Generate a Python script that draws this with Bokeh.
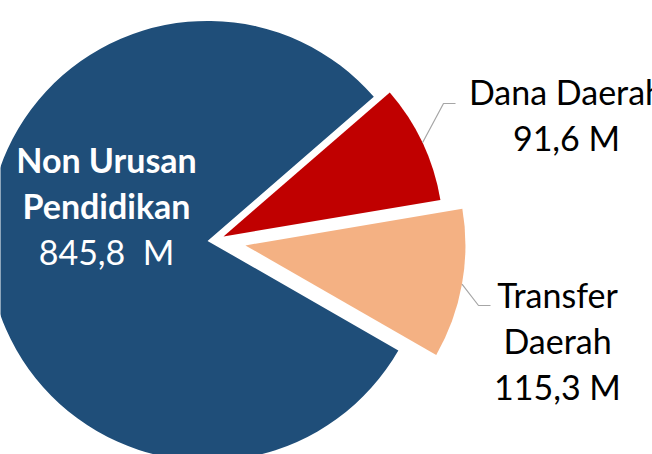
import numpy as np
from bokeh.plotting import figure
from bokeh.models import ColumnDataSource, Range1d
from bokeh.core.properties import value
from bokeh.embed import file_html
from bokeh.resources import INLINE

# ---- data (clockwise order starting at the upper edge of "Dana Daerah") ----
name_lines = [["Dana Daerah"], ["Transfer", "Daerah"], ["Non Urusan", "Pendidikan"]]
values = [91.6, 115.3, 845.8]
value_labels = ["91,6 M", "115,3 M", "845,8\u00a0 M"]
colors = ["#C00000", "#F4B183", "#1F4E79"]

# ---- layout ----
W, H = 652, 454
START_DEG = 40.9            # upper edge of the first slice
CX, CY = 215.4, H - 239.6   # pie centre
R = 220
explode = [8.4, 30.0, 8.4]

vals = np.array(values, dtype=float)
sweep = vals / vals.sum() * 360.0
upper = START_DEG - np.concatenate([[0], np.cumsum(sweep)[:-1]])
lower = upper - sweep
mid = np.radians((upper + lower) / 2)
xs = CX + np.array(explode) * np.cos(mid)
ys = CY + np.array(explode) * np.sin(mid)

p = figure(width=W, height=H, x_range=Range1d(0, W), y_range=Range1d(0, H),
           output_backend="svg", toolbar_location=None, min_border=0,
           x_axis_location=None, y_axis_location=None)
p.grid.visible = False
p.outline_line_color = None
p.background_fill_color = "white"
p.border_fill_color = "white"

src = ColumnDataSource(dict(x=xs, y=ys, a0=np.radians(lower), a1=np.radians(upper), color=colors))
p.wedge(x="x", y="y", radius=R, start_angle="a0", end_angle="a1", direction="anticlock",
        fill_color="color", line_color=None, source=src)

# leader lines for the outside labels (slices 0 and 1)
elbows = [[(443, 103), (455, 103)], [(478, 305), (490, 305)]]
for i, pts in enumerate(elbows):
    sx = xs[i] + R * np.cos(mid[i])
    sy = ys[i] + R * np.sin(mid[i])
    lx = [sx] + [q[0] for q in pts]
    ly = [sy] + [H - q[1] for q in pts]
    p.line(lx, ly, line_color="#A6A6A6", line_width=1.2)

# labels
label_x = [566, 557, 106]
label_base = [91, 294, 159]
line_gap = 46
inside = [False, False, True]
for i in range(3):
    lines = name_lines[i]
    for j, t in enumerate(lines):
        p.text(x=[label_x[i]], y=[H - (label_base[i] + j * line_gap)], text=[t],
               text_font=value("Lato"), text_font_size="34px",
               text_font_style="bold" if inside[i] else "normal",
               text_color="white" if inside[i] else "black",
               text_align="center", text_baseline="alphabetic")
    p.text(x=[label_x[i]], y=[H - (label_base[i] + len(lines) * line_gap)], text=[value_labels[i]],
           text_font=value("Lato"), text_font_size="34px",
           text_color="white" if inside[i] else "black",
           text_align="center", text_baseline="alphabetic")

open("out.html", "w").write(file_html(p, INLINE))
